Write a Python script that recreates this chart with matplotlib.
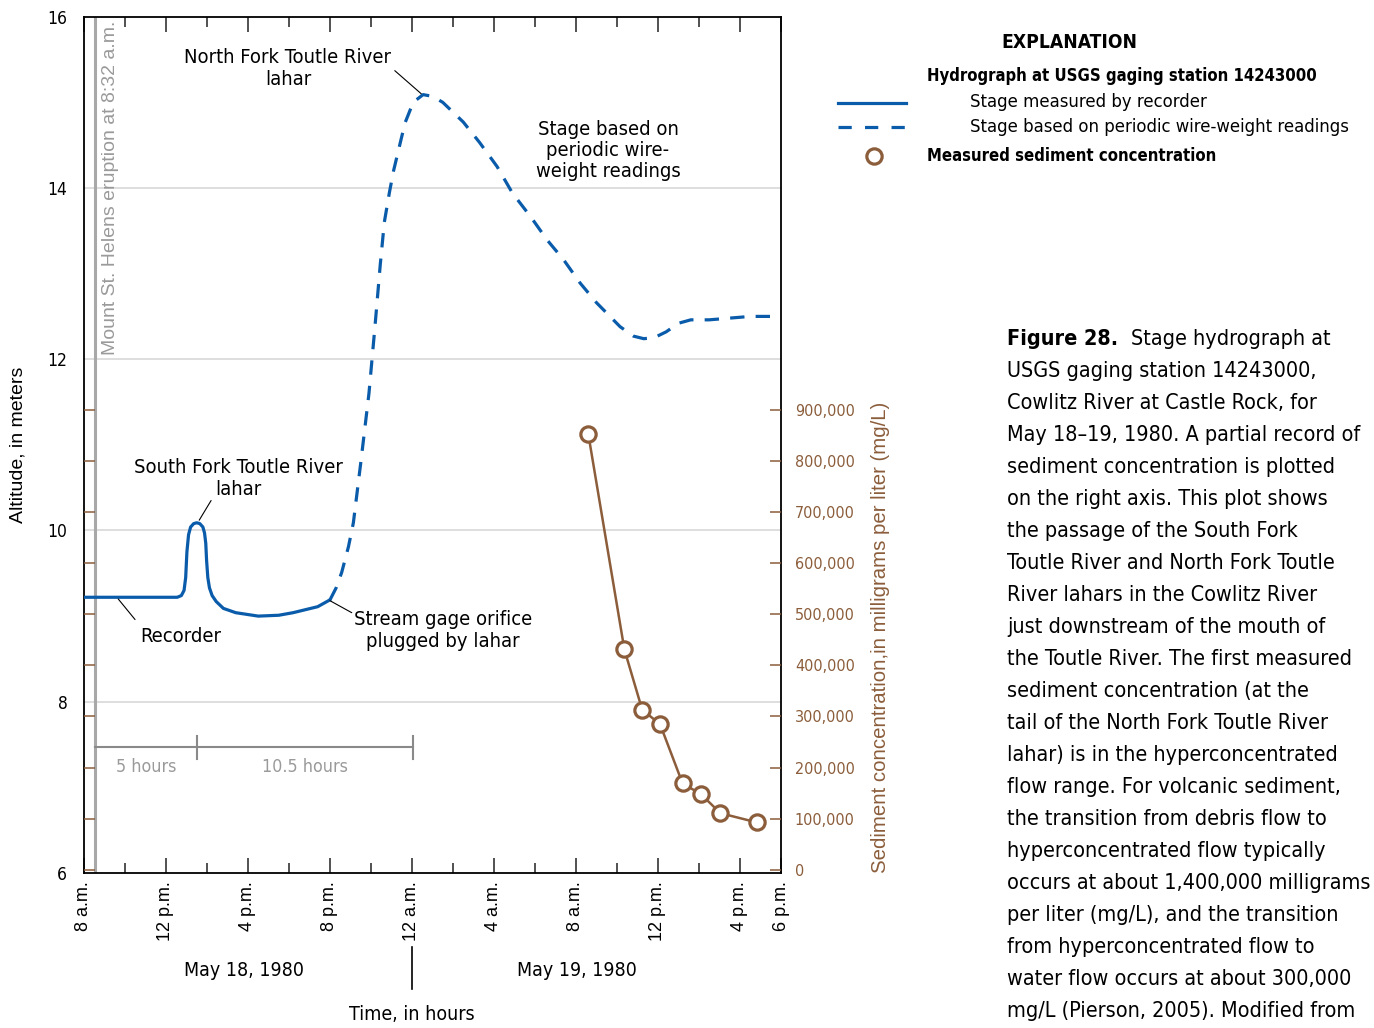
import numpy as np
import matplotlib.pyplot as plt
from matplotlib.ticker import FuncFormatter

# Hours after 8 a.m., May 18, 1980
rec_hours = [0, 4.55, 4.75, 4.88, 4.96, 5.02, 5.1, 5.2, 5.35, 5.5, 5.65, 5.8, 5.88, 5.94,
             5.98, 6.04, 6.12, 6.25, 6.45, 6.8, 7.4, 8.5, 9.5, 10.2, 11.4, 12.0]
rec_stage = [9.22, 9.22, 9.24, 9.3, 9.45, 9.75, 9.95, 10.04, 10.08, 10.09, 10.08, 10.04,
             9.97, 9.85, 9.65, 9.45, 9.33, 9.24, 9.17, 9.09, 9.04, 9.0, 9.01, 9.04, 9.11,
             9.19]

wire_hours = [12.0, 12.3, 12.57, 12.9, 13.14, 13.5, 13.9, 14.2, 14.45, 14.65, 14.9, 15.1,
              15.4, 15.66, 16.06, 16.54, 17.0, 17.5, 18.5, 19.3, 20.15, 20.9, 21.8, 22.6,
              23.4, 24.2, 25.0, 26.15, 26.8, 27.3, 27.8, 28.4, 29.0, 29.6, 30.5, 31.5,
              32.5, 34.0]
wire_stage = [9.19, 9.33, 9.51, 9.81, 10.09, 10.79, 11.6, 12.4, 13.1, 13.6, 13.95, 14.2,
              14.5, 14.76, 15.0, 15.09, 15.07, 15.0, 14.77, 14.53, 14.25, 13.94, 13.66,
              13.39, 13.16, 12.89, 12.66, 12.38, 12.27, 12.24, 12.25, 12.32, 12.42, 12.46,
              12.46, 12.48, 12.5, 12.5]

sed_hours = [24.6, 26.36, 27.23, 28.1, 29.2, 30.1, 31.04, 32.81]
sed_conc = [852000, 431000, 313000, 285000, 169000, 148000, 111000, 93000]

eruption = 32 / 60  # 8:32 a.m.

tick_hours = [0, 4, 8, 12, 16, 20, 24, 28, 32, 34]
tick_labels = ['8 a.m.', '12 p.m.', '4 p.m.', '8 p.m.', '12 a.m.', '4 a.m.', '8 a.m.',
               '12 p.m.', '4 p.m.', '6 p.m.']
minor_hours = list(range(2, 34, 4))

BLUE = '#0a5cab'
BROWN = '#8b5d3b'
GREY = '#9a9a9a'
COND = dict(family=['DejaVu Sans'], stretch='condensed')
REG = dict(family=['Liberation Sans', 'DejaVu Sans'])

W, H = 1374, 1028
fig = plt.figure(figsize=(W / 100, H / 100), dpi=100)
ax = fig.add_axes([84 / W, 1 - 873 / H, 697 / W, 856.3 / H])


def fx(x):
    return x / W


def fy(y):
    return 1 - y / H


ax.set_xlim(0, 34)
ax.set_ylim(6, 16)

for v in [8, 10, 12, 14]:
    ax.axhline(v, color='#d8d8d8', lw=1.2, zorder=0)

ax.axvline(eruption, color='#a8a8a8', lw=2.2, zorder=1)

ax.plot(rec_hours, rec_stage, color=BLUE, lw=2.3, solid_capstyle='round',
        solid_joinstyle='round', zorder=3)
ax.plot(wire_hours, wire_stage, color=BLUE, lw=2.3, dashes=(4.5, 3.5), zorder=3)

# x axis: inward ticks top and bottom
ax.set_xticks(tick_hours)
ax.set_xticklabels(tick_labels, rotation=90, fontsize=13, **REG)
ax.set_xticks(minor_hours, minor=True)
ax.tick_params(axis='x', which='major', direction='in', length=10.5, width=1.1,
               top=True, pad=6, color='#222222')
ax.tick_params(axis='x', which='minor', direction='in', length=7, width=1.1,
               top=True, color='#222222')

ax.set_yticks([6, 8, 10, 12, 14, 16])
ax.set_yticklabels(['6', '8', '10', '12', '14', '16'], fontsize=12.5, **COND)
ax.tick_params(axis='y', length=0, pad=12)
for s in ax.spines.values():
    s.set_linewidth(1.3)

ax.text(-0.0947, 0.5, 'Altitude, in meters', rotation=90, transform=ax.transAxes,
        ha='center', va='center', fontsize=14, **REG)

# sediment concentration on the right axis
ax2 = ax.twinx()
ax2.set_ylim(-6000, 1668000)
ax2.plot(sed_hours, sed_conc, color=BROWN, lw=1.8, marker='o', ms=11, mfc='white',
         mec=BROWN, mew=2.3, zorder=4)
ax2.set_yticks(np.arange(0, 900001, 100000))
ax2.yaxis.set_major_formatter(FuncFormatter(lambda v, p: f'{int(v):,}'))
ax2.yaxis.set_ticks_position('both')
ax2.tick_params(axis='y', direction='in', length=8, width=1.1, color=BROWN,
                labelcolor=BROWN, labelsize=11.5, pad=10, labelleft=False,
                labelright=True)
for lab in ax2.get_yticklabels():
    lab.set_family(COND['family'])
    lab.set_stretch('condensed')
for s in ax2.spines.values():
    s.set_visible(False)

fig.text(fx(880), fy(637), 'Sediment concentration,in milligrams per liter (mg/L)',
         rotation=90, ha='center', va='center', fontsize=14.7, color=BROWN, **REG)

# eruption label and elapsed time bars
ax.text(eruption + 0.75, 15.95, 'Mount St. Helens eruption at 8:32 a.m.', rotation=90,
        ha='center', va='top', fontsize=14, color=GREY, **REG)
bar_y = 7.47
bar_ends = [eruption, eruption + 5, eruption + 15.5]
ax.plot([bar_ends[0], bar_ends[-1]], [bar_y, bar_y], color='#8a8a8a', lw=1.5)
for b in bar_ends[1:]:
    ax.plot([b, b], [bar_y - 0.14, bar_y + 0.13], color='#8a8a8a', lw=1.5)
ax.text((bar_ends[0] + bar_ends[1]) / 2, 7.24, '5 hours', ha='center', va='center',
        fontsize=12.8, color=GREY, **COND)
ax.text((bar_ends[1] + bar_ends[2]) / 2, 7.24, '10.5 hours', ha='center', va='center',
        fontsize=12.8, color=GREY, **COND)

# annotations with leader lines
lead = dict(arrowstyle='-', color='black', lw=0.8, shrinkA=0, shrinkB=0)
ax.text(9.95, 15.39, 'North Fork Toutle River\nlahar', ha='center', va='center',
        fontsize=14.5, **COND)
ax.annotate('', xy=(16.45, 15.1), xytext=(15.16, 15.37), arrowprops=lead)
ax.text(25.56, 14.44, 'Stage based on\nperiodic wire-\nweight readings', ha='center',
        va='center', fontsize=14.5, linespacing=1.15, **COND)
ax.text(7.51, 10.61, 'South Fork Toutle River\nlahar', ha='center', va='center',
        fontsize=14.5, **COND)
ax.annotate('', xy=(5.62, 10.12), xytext=(6.2, 10.35), arrowprops=lead)
ax.text(4.73, 8.76, 'Recorder', ha='center', va='center', fontsize=14.5, **COND)
ax.annotate('', xy=(2.49, 8.96), xytext=(1.67, 9.2), arrowprops=lead)
ax.text(17.5, 8.83, 'Stream gage orifice\nplugged by lahar', ha='center', va='center',
        fontsize=14.5, **COND)
ax.annotate('', xy=(13.06, 9.04), xytext=(12.0, 9.18), arrowprops=lead)

# date labels under the time axis
fig.text(fx(244), fy(970), 'May 18, 1980', ha='center', va='center', fontsize=14,
         **COND)
fig.text(fx(577), fy(970), 'May 19, 1980', ha='center', va='center', fontsize=14,
         **COND)
fig.add_artist(plt.Line2D([fx(412), fx(412)], [fy(947), fy(989)], color='black', lw=1.2))
fig.text(fx(412), fy(1015), 'Time, in hours', ha='center', va='center', fontsize=14,
         **COND)

# explanation
fig.text(fx(1069), fy(42), 'EXPLANATION', ha='center', va='center', fontsize=13.8,
         weight='bold', **COND)
fig.text(fx(927), fy(76), 'Hydrograph at USGS gaging station 14243000', ha='left',
         va='center', fontsize=12, weight='bold', **COND)
fig.add_artist(plt.Line2D([fx(838), fx(906)], [fy(103), fy(103)], color=BLUE, lw=2.3))
fig.add_artist(plt.Line2D([fx(838), fx(906)], [fy(127), fy(127)], color=BLUE, lw=2.3,
                          dashes=(4.15, 4.15)))
fig.add_artist(plt.Line2D([fx(874)], [fy(156)], marker='o', ms=11, mfc='white',
                          mec=BROWN, mew=2.3))
fig.text(fx(970), fy(102), 'Stage measured by recorder', ha='left', va='center',
         fontsize=13.2, **COND)
fig.text(fx(970), fy(127), 'Stage based on periodic wire-weight readings', ha='left',
         va='center', fontsize=13.2, **COND)
fig.text(fx(927), fy(156), 'Measured sediment concentration', ha='left', va='center',
         fontsize=12, weight='bold', **COND)

# caption
caption = [
    'USGS gaging station 14243000,',
    'Cowlitz River at Castle Rock, for',
    'May 18\u201319, 1980. A partial record of',
    'sediment concentration is plotted',
    'on the right axis. This plot shows',
    'the passage of the South Fork',
    'Toutle River and North Fork Toutle',
    'River lahars in the Cowlitz River',
    'just downstream of the mouth of',
    'the Toutle River. The first measured',
    'sediment concentration (at the',
    'tail of the North Fork Toutle River',
    'lahar) is in the hyperconcentrated',
    'flow range. For volcanic sediment,',
    'the transition from debris flow to',
    'hyperconcentrated flow typically',
    'occurs at about 1,400,000 milligrams',
    'per liter (mg/L), and the transition',
    'from hyperconcentrated flow to',
    'water flow occurs at about 300,000',
    'mg/L (Pierson, 2005). Modified from',
]
fig.text(fx(1007), fy(339), 'Figure 28.', ha='left', va='center', fontsize=15.5,
         weight='bold', **COND)
fig.text(fx(1131), fy(339), 'Stage hydrograph at', ha='left', va='center', fontsize=15.5,
         **COND)
for i, line in enumerate(caption):
    fig.text(fx(1007), fy(371 + 32 * i), line, ha='left', va='center', fontsize=15.5,
             **COND)

fig.savefig('out.png', dpi=100)
